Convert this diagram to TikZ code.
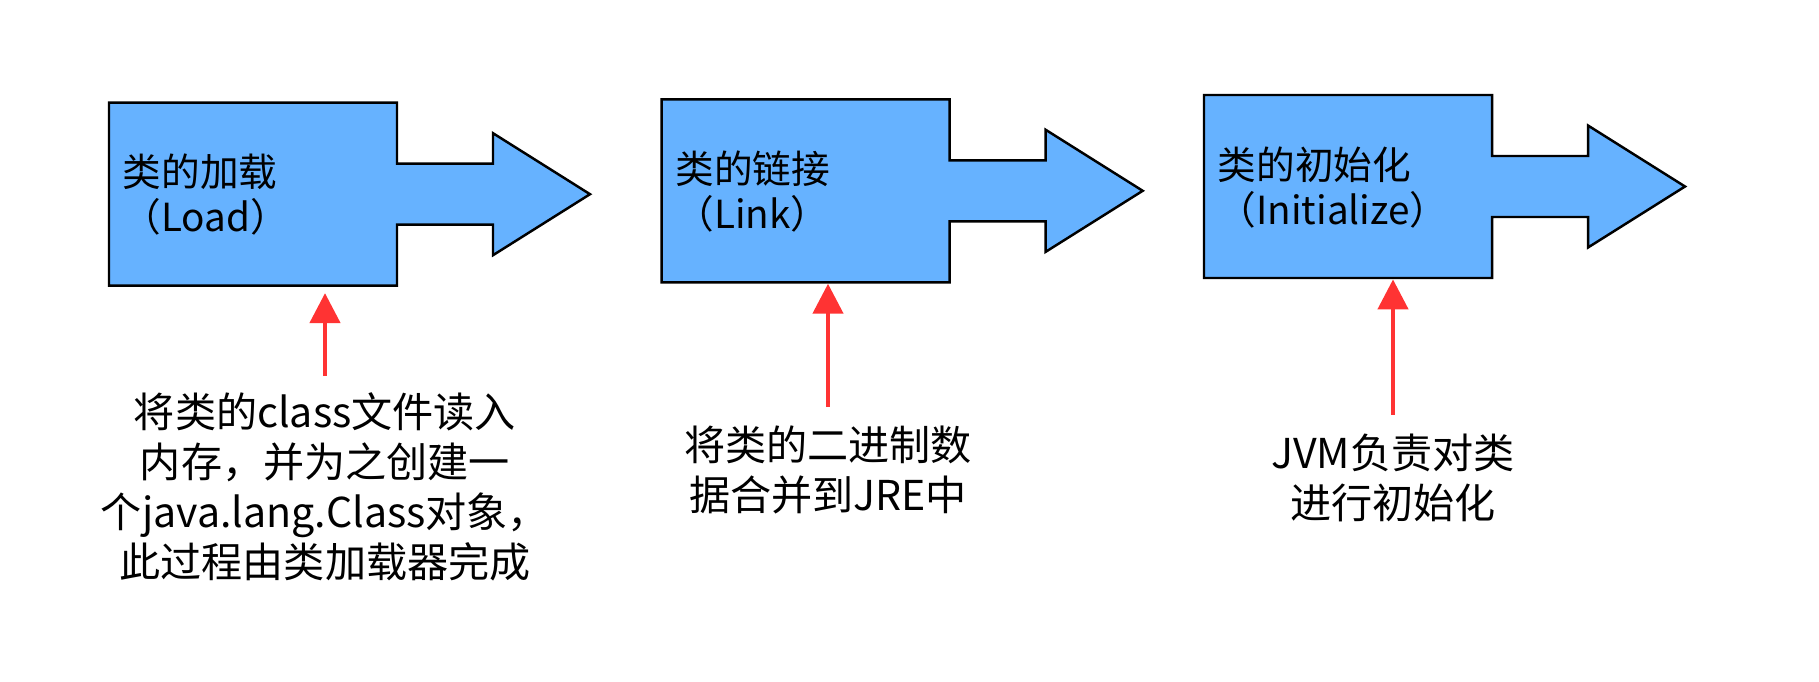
\documentclass[tikz,border=0pt]{standalone}
\usepackage{fontspec}
\newfontfamily\cjk{Noto Sans CJK SC}
\usetikzlibrary{arrows.meta, positioning}
\usepackage{xcolor}
\definecolor{stageblue}{RGB}{102,178,255}
\definecolor{notered}{RGB}{255,51,51}

\tikzset{
  stage arrow/.pic={
    \draw[line width=0.7pt, fill=stageblue] (0,0) -- ++(2.88,0) -- ++(0,-0.61) -- ++(0.96,0) -- ++(0,0.305)
      -- ++(0.97,-0.61) -- ++(-0.97,-0.61) -- ++(0,0.305) -- ++(-0.96,0) -- ++(0,-0.61) -- ++(-2.88,0) -- cycle;
  }
}

\begin{document}
\begin{tikzpicture}[font=\cjk, >={Triangle[length=0.3cm, width=0.3cm]},
    stage/.style={anchor=north west, minimum height=1.83cm, inner xsep=0.13cm, text width=2.62cm, align=left,
      font=\cjk\fontsize{11pt}{12.8pt}\selectfont},
    note/.style={align=center, inner sep=0pt, font=\cjk\fontsize{11.7pt}{14.2pt}\selectfont},
    notearrow/.style={->, draw=notered, line width=1.3pt}]
    \useasboundingbox (0,0) rectangle (18.19,-6.81);
    \def\Lx{1.09} \def\Ly{-1.027}
    \def\Kx{6.617} \def\Ky{-0.993}
    \def\Ix{12.04} \def\Iy{-0.95}

    \pic at (\Lx,\Ly) {stage arrow};
    \pic at (\Kx,\Ky) {stage arrow};
    \pic at (\Ix,\Iy) {stage arrow};

    \node[stage] (load) at (\Lx,\Ly) {类的加载\\（Load）};
    \node[stage] (link) at (\Kx,\Ky) {类的链接\\（Link）};
    \node[stage] (init) at (\Ix,\Iy) {类的初始化\\（Initialize）};

    \node[note] (loadnote) at (3.25,-4.87) {将类的class文件读入\\内存，并为之创建一\\个java.lang.Class对象，\\此过程由类加载器完成};
    \node[note] (linknote) at (8.28,-4.70) {将类的二进制数\\据合并到JRE中};
    \node[note] (initnote) at (13.93,-4.775) {JVM负责对类\\进行初始化};

    \draw[notearrow] ([yshift=0.16cm]loadnote.north) -- ([yshift=-0.06cm]loadnote.north |- load.south);
    \draw[notearrow] ([yshift=0.18cm]linknote.north) -- (linknote.north |- link.south);
    \draw[notearrow] ([yshift=0.18cm]initnote.north) -- (initnote.north |- init.south);
\end{tikzpicture}
\end{document}
